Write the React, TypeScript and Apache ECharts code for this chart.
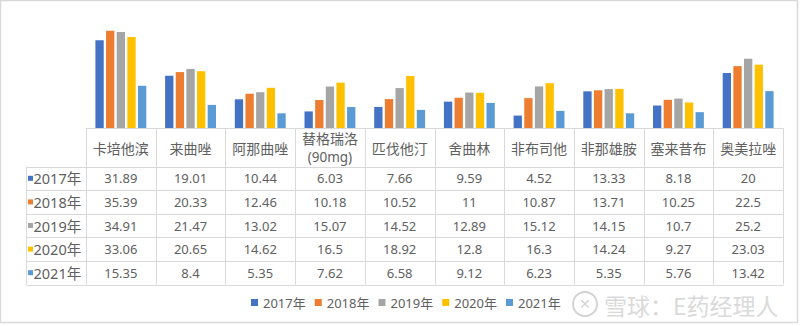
import React, { useEffect, useRef } from "react";
import * as echarts from "echarts";

const categories = ["卡培他滨", "来曲唑", "阿那曲唑", "替格瑞洛\n(90mg)", "匹伐他汀", "舍曲林", "非布司他", "非那雄胺", "塞来昔布", "奥美拉唑"];
const years = ["2017年", "2018年", "2019年", "2020年", "2021年"];
const v2017 = [31.89, 19.01, 10.44, 6.03, 7.66, 9.59, 4.52, 13.33, 8.18, 20];
const v2018 = [35.39, 20.33, 12.46, 10.18, 10.52, 11, 10.87, 13.71, 10.25, 22.5];
const v2019 = [34.91, 21.47, 13.02, 15.07, 14.52, 12.89, 15.12, 14.15, 10.7, 25.2];
const v2020 = [33.06, 20.65, 14.62, 16.5, 18.92, 12.8, 16.3, 14.24, 9.27, 23.03];
const v2021 = [15.35, 8.4, 5.35, 7.62, 6.58, 9.12, 6.23, 5.35, 5.76, 13.42];
const seriesValues = [v2017, v2018, v2019, v2020, v2021];
const colors = ["#4472C4", "#ED7D31", "#A5A5A5", "#FFC000", "#5B9BD5"];

const LINE = "#d9d9d9";
const TXT = "#606060";
const CJK = "'Noto Sans CJK SC', 'Noto Sans', sans-serif";
const NUM = "'Noto Sans', 'Noto Sans CJK SC', sans-serif";
const HEADER_H = 38;
const ROW_H = 23.6;
const ROWHEAD_W = 60;

export default function App() {
  const ref = useRef<HTMLDivElement>(null);
  useEffect(() => {
    if (!ref.current) return;
    const chart = echarts.init(ref.current, undefined, { renderer: "svg" });
    const n = categories.length;
    const tableH = HEADER_H + ROW_H * years.length;

    const renderItem = (params: any, api: any) => {
      const i = api.value(0);
      const pt = api.coord([i, 0]);
      const cx = pt[0];
      const by = Math.round(pt[1]) + 0.5;
      const bw = api.size([1, 0])[0];
      const x0 = Math.round(cx - bw / 2) + 0.5;
      const children: any[] = [];
      children.push({ type: "line", shape: { x1: x0, y1: by, x2: x0, y2: by + tableH }, style: { stroke: LINE, lineWidth: 1 } });
      if (i === n - 1) {
        const x1 = Math.round(cx + bw / 2) + 0.5;
        children.push({ type: "line", shape: { x1, y1: by, x2: x1, y2: by + tableH }, style: { stroke: LINE, lineWidth: 1 } });
      }
      const lines = categories[i].split("\n");
      const lh = 19;
      lines.forEach((ln, k) => {
        const latin = /^[\x00-\x7f]+$/.test(ln);
        children.push({
          type: "text",
          style: {
            text: ln, x: cx, y: by + HEADER_H / 2 + (k - (lines.length - 1) / 2) * lh, align: "center", verticalAlign: "middle",
            fontSize: latin ? 13.5 : 14, fontFamily: latin ? NUM : CJK, fill: TXT,
          },
        });
      });
      seriesValues.forEach((arr, r) => {
        children.push({
          type: "text",
          style: {
            text: String(arr[i]), x: cx, y: by + HEADER_H + ROW_H * (r + 0.5), align: "center", verticalAlign: "middle",
            fontSize: 13, fontFamily: NUM, fill: TXT,
          },
        });
      });
      if (i === 0) {
        const left = x0 - ROWHEAD_W;
        const right = x0 + n * bw;
        children.push({ type: "line", shape: { x1: left, y1: by + HEADER_H, x2: left, y2: by + tableH }, style: { stroke: LINE, lineWidth: 1 } });
        for (let r = 0; r <= years.length; r++) {
          const y = Math.round(by + HEADER_H + ROW_H * r) + 0.5;
          children.push({ type: "line", shape: { x1: left, y1: y, x2: right, y2: y }, style: { stroke: LINE, lineWidth: 1 } });
        }
        years.forEach((yr, r) => {
          const yc = by + HEADER_H + ROW_H * (r + 0.5);
          children.push({ type: "rect", shape: { x: left + 1.5, y: yc - 2.5, width: 5, height: 5 }, style: { fill: colors[r] } });
          children.push({
            type: "text",
            style: { text: yr, x: left + 7, y: yc, align: "left", verticalAlign: "middle", fontSize: 14.5, fontFamily: NUM, fill: TXT },
          });
        });
      }
      return { type: "group", children };
    };

    chart.setOption({
      animation: false,
      backgroundColor: "#ffffff",
      grid: { left: 86, right: 17, top: 18, bottom: 198, containLabel: false },
      xAxis: {
        type: "category",
        data: categories,
        axisLine: { show: true, lineStyle: { color: LINE } },
        axisTick: { show: false },
        axisLabel: { show: false },
        splitLine: { show: false },
      },
      yAxis: { type: "value", min: 0, max: 40, show: false },
      legend: {
        data: years,
        bottom: 12,
        left: 246,
        icon: "rect",
        itemWidth: 7,
        itemHeight: 7,
        itemGap: 9,
        textStyle: { fontSize: 13, color: TXT, fontFamily: NUM },
      },
      series: [
        ...years.map((y, k) => ({
          name: y,
          type: "bar",
          data: seriesValues[k],
          itemStyle: { color: colors[k] },
          barGap: "28%",
          barCategoryGap: "27%",
        })),
        {
          type: "custom",
          renderItem,
          clip: false,
          silent: true,
          data: categories.map((_, i) => [i, 0]),
          encode: { x: 0, y: 1 },
          z: 5,
        },
      ],
      graphic: [
        { type: "rect", shape: { x: 0.5, y: 0.5, width: 797, height: 322 }, style: { fill: "none", stroke: "#d9d9d9", lineWidth: 1.5 }, silent: true },
        { type: "circle", shape: { cx: 585, cy: 304, r: 12 }, style: { fill: "none", stroke: "#d4d4d4", lineWidth: 2 } },
        { type: "text", style: { text: "✕", x: 585, y: 304, align: "center", verticalAlign: "middle", fontSize: 14, fill: "#d4d4d4" } },
        { type: "text", style: { text: "雪球：E药经理人", x: 604, y: 305, align: "left", verticalAlign: "middle", fontSize: 23, fontFamily: CJK, fill: "#dadada" } },
      ],
    });
    return () => chart.dispose();
  }, []);
  return <div ref={ref} style={{ position: "fixed", left: 0, top: 0, width: 800, height: 326 }} />;
}
